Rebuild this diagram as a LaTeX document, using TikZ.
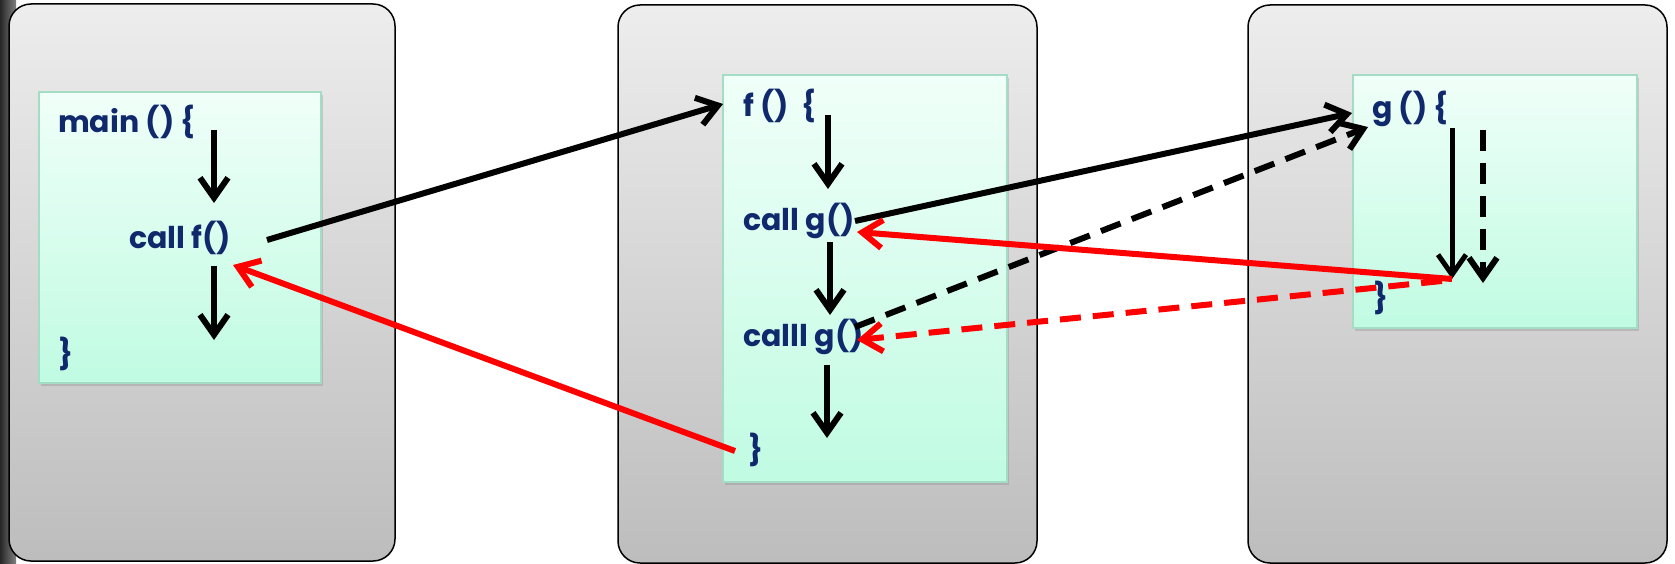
\documentclass[tikz,border=0pt]{standalone}
\usepackage{fontspec}
\setmainfont{Poppins}
\usetikzlibrary{arrows.meta,shadows}
\definecolor{codeblue}{RGB}{16,40,108}
\definecolor{mintline}{RGB}{165,220,198}
\definecolor{minttop}{RGB}{240,255,249}
\definecolor{mintbottom}{RGB}{192,251,226}

\begin{document}
\begin{tikzpicture}[x=1pt,y=-1pt,>={Straight Barb[length=20pt,width=28pt]},
  panel/.style={draw=black,line width=1.5pt,rounded corners=22pt,top color=black!7,bottom color=black!26},
  codebox/.style={draw=mintline,line width=1.5pt,top color=minttop,bottom color=mintbottom,
    drop shadow={shadow xshift=2pt,shadow yshift=-3pt,opacity=.3}},
  code/.style={anchor=base west,inner sep=0pt,text=codeblue,font=\fontsize{30}{36}\selectfont\bfseries},
  flow/.style={->,line width=6pt},
  back/.style={flow,red},
  again/.style={dash pattern=on 21pt off 12pt}]
\useasboundingbox (0,0) rectangle (1675,564);
\fill[left color=black!85,right color=black!50] (0,0) rectangle (16,564);
\draw[panel] (9,4) rectangle (395,561);
\draw[panel] (618,5) rectangle (1037,563);
\draw[panel] (1248,5) rectangle (1667,563);
\draw[codebox] (39,92) rectangle (321,383);
\draw[codebox] (723,75) rectangle (1007,482);
\draw[codebox] (1353,75) rectangle (1637,328);
\node[code] (mainhead) at (58,133) {main () \{};
\node[code] (callf) at (129,248) {call f()};
\node[code] (mainend) at (58,364) {\}};
\node[code] (fhead) at (743,117) {f ()\ \ \{};
\node[code] (callg) at (743,230) {call g()};
\node[code] (calllg) at (743,346) {calll g()};
\node[code] (fend) at (748,460) {\}};
\node[code] (ghead) at (1372,119) {g () \{};
\node[code] (gend) at (1373,308) {\}};
\coordinate (main1) at (214,130); \coordinate (main2) at (214,203);
\coordinate (main3) at (214,266); \coordinate (main4) at (214,340);
\coordinate (f1) at (828,115); \coordinate (f2) at (828,189);
\coordinate (f3) at (830,242); \coordinate (f4) at (830,315);
\coordinate (f5) at (827,365); \coordinate (f6) at (827,438);
\coordinate (g1) at (1452,128); \coordinate (g2) at (1452,279);
\coordinate (g3) at (1483,130); \coordinate (g4) at (1483,283);
\coordinate (callf out) at (267,240); \coordinate (callf in) at (233,265);
\coordinate (fhead in) at (723,104); \coordinate (fend out) at (735,451);
\coordinate (callg out) at (855,221); \coordinate (callg in) at (857,232);
\coordinate (calllg out) at (855,327); \coordinate (calllg in) at (857,340);
\coordinate (ghead in) at (1352,113); \coordinate (ghead in2) at (1368,127);
\coordinate (gend out2) at (1442,281);
\draw[flow] (main1) -- (main2);
\draw[flow] (main3) -- (main4);
\draw[flow] (f1) -- (f2);
\draw[flow] (f3) -- (f4);
\draw[flow] (f5) -- (f6);
\draw[flow,line width=5pt] (g1) -- (g2);
\draw[flow,again] (g3) -- (g4);
\draw[flow] (callf out) -- (fhead in);
\draw[back] (fend out) -- (callf in);
\draw[flow] (callg out) -- (ghead in);
\draw[flow,again] (calllg out) -- (ghead in2);
\draw[back] (g2) -- (callg in);
\draw[back,again] (gend out2) -- (calllg in);
\end{tikzpicture}
\end{document}
